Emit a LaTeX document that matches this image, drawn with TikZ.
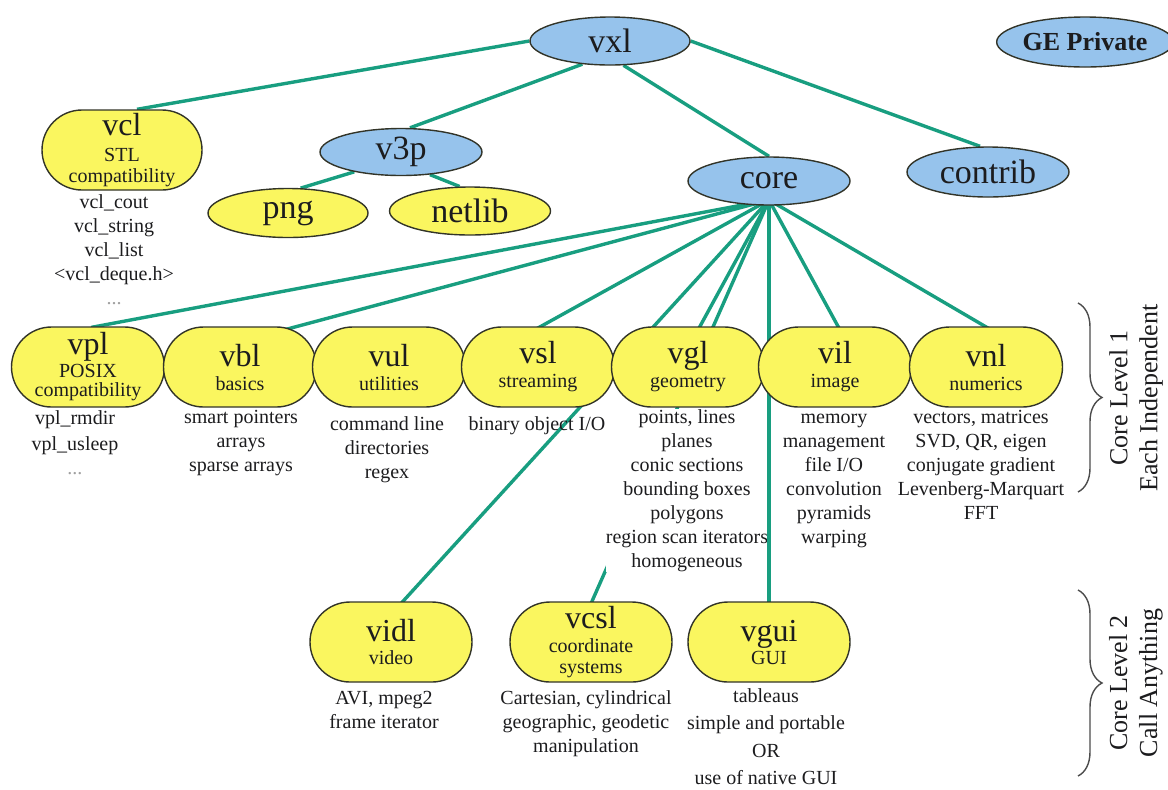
\documentclass[tikz,border=0pt]{standalone}
\usepackage{fontspec}
\setmainfont{Liberation Serif}
\usetikzlibrary{shapes.geometric,shapes.misc,calc,decorations.pathreplacing}
\definecolor{edgec}{RGB}{24,158,128}
\definecolor{bluef}{RGB}{150,195,236}
\definecolor{yelf}{RGB}{250,246,95}
\definecolor{bord}{RGB}{50,52,40}
\definecolor{txt}{RGB}{28,28,30}
\definecolor{dotc}{RGB}{160,160,160}
\newcommand\bigf{\fontsize{16}{16}\selectfont}
\newcommand\smf{\fontsize{10}{12}\selectfont}
\newcommand\stt{\rule{0pt}{7pt}}
\pgfdeclarelayer{bg}
\pgfdeclarelayer{descl}
\pgfdeclarelayer{toplines}
\pgfsetlayers{bg,descl,toplines,main}
\tikzset{
  blueell/.style={ellipse, draw=bord, fill=bluef, line width=0.7pt, inner sep=0pt, font=\fontsize{17}{17}\selectfont, text=txt},
  yelell/.style={blueell, fill=yelf},
  rbox/.style={rounded rectangle, draw=bord, fill=yelf, line width=0.7pt, inner sep=0pt, minimum height=40pt, minimum width=76.5pt, align=center, font=\smf, text=txt},
  desc/.style={align=center, font=\smf, inner sep=0pt, text=txt, anchor=north},
  conn/.style={draw=edgec, line width=1.7pt},
  brc/.style={draw=black!70, line width=0.7pt, decorate, decoration={brace, amplitude=12pt}},
  side/.style={rotate=90, align=center, font=\fontsize{13}{15}\selectfont, text=txt, inner sep=0pt}
}
\begin{document}
\begin{tikzpicture}[x=0.5pt, y=-0.5pt]
\useasboundingbox (0,0) rectangle (1168,789);
% top level
\node[blueell, minimum width=80pt, minimum height=24pt] (vxl) at (610,41) {vxl};
\node[blueell, minimum width=79pt, minimum height=25pt, font=\fontsize{13}{13}\selectfont\bfseries] (ge) at (1085,42) {GE Private};
\node[blueell, minimum width=81pt, minimum height=23.5pt] (v3p) at (401,152) {v3p};
\node[yelell, minimum width=80pt, minimum height=24.5pt] (png) at (288,213) {png};
\node[yelell, minimum width=80.5pt, minimum height=24pt] (netlib) at (470,211) {netlib};
\node[blueell, minimum width=81pt, minimum height=24pt] (core) at (769,181) {core};
\node[blueell, minimum width=81pt, minimum height=25pt] (contrib) at (988,172) {contrib};
\node[rbox, minimum width=80pt] (vcl) at (122,150) {{\bigf vcl}\\[1pt]STL\\[-1.5pt]compatibility};
% core level 1
\node[rbox] (vpl) at (88,367) {{\bigf vpl}\\[-0.5pt]POSIX\\[-2.5pt]compatibility};
\node[rbox] (vbl) at (240,367) {{\bigf vbl}\\basics};
\node[rbox] (vul) at (389,367) {{\bigf vul}\\utilities};
\node[rbox] (vsl) at (538,367) {{\bigf vsl}\\streaming};
\node[rbox] (vgl) at (688,367) {{\bigf vgl}\\geometry};
\node[rbox] (vil) at (835,367) {{\bigf vil}\\image};
\node[rbox] (vnl) at (986,367) {{\bigf vnl}\\numerics};
% core level 2
\node[rbox, minimum width=81pt] (vidl) at (391,642) {{\bigf vidl}\\[-0.5pt]video};
\node[rbox, minimum width=81pt] (vcsl) at (591,642) {{\bigf vcsl}\\coordinate\\[-1.5pt]systems};
\node[rbox, minimum width=81pt] (vgui) at (769,642) {{\bigf vgui}\\[-0.5pt]GUI};
% descriptions
\begin{pgfonlayer}{descl}
\node[desc] (vcl-d) at (114,194) {\stt vcl\_cout\\vcl\_string\\vcl\_list\\<vcl\_deque.h>\\{\color{dotc}...}};
\node[desc] (vpl-d) at (75,410) {\stt vpl\_rmdir\\[1pt]vpl\_usleep\\{\color{dotc}...}};
\node[desc] (vbl-d) at (241,409) {\stt smart pointers\\arrays\\sparse arrays};
\node[desc] (vul-d) at (387,416) {\stt command line\\directories\\regex};
\node[desc] (vsl-d) at (537,416) {\stt binary object I/O};
\node[desc, fill=white] (vgl-d) at (687,409) {\stt points, lines\\planes\\conic sections\\bounding boxes\\polygons\\region scan iterators\\homogeneous};
\node[desc] (vil-d) at (834,409) {\stt memory\\management\\file I/O\\convolution\\pyramids\\warping};
\node[desc] (vnl-d) at (981,409) {\stt vectors, matrices\\SVD, QR, eigen\\conjugate gradient\\Levenberg-Marquart\\FFT};
\node[desc] (vidl-d) at (384,690) {\stt AVI, mpeg2\\frame iterator};
\node[desc] (vcsl-d) at (586,690) {\stt Cartesian, cylindrical\\geographic, geodetic\\manipulation};
\node[desc] (vgui-d) at (766,688) {\stt tableaus\\[1.75pt]simple and portable\\[1.75pt]OR\\[1.75pt]use of native GUI};
\end{pgfonlayer}
% connectors
\begin{pgfonlayer}{bg}
\draw[conn] (vxl.west) -- ($(vcl.north)+(15,0)$);
\draw[conn] (vxl.220) -- ($(v3p.north)+(9,0)$);
\draw[conn] (vxl.299) -- (core.north);
\draw[conn] (vxl.east) -- ($(contrib.north)+(-8,0)$);
\draw[conn] (v3p.203) -- (png.63);
\draw[conn] (v3p.322) -- (netlib.113);
\coordinate (hub) at (769,200);
\draw[conn, shorten >=-3pt] (hub) -- ($(vpl.north)+(9,0)$);
\draw[conn, shorten >=-3pt] (hub) -- ($(vbl.north)+(50,2)$);
\draw[conn, shorten >=-3pt] (hub) -- ($(vsl.north)+(3,0)$);
\draw[conn, shorten >=-3pt] (hub) -- ($(vgl.north)+(12,0)$);
\draw[conn, shorten >=-3pt] (hub) -- ($(vil.north)+(3,0)$);
\draw[conn, shorten >=-3pt] (hub) -- ($(vnl.north)+(-1,0)$);
\draw[conn, shorten >=-3pt] (hub) -- ($(vidl.north)+(12,0)$);
\draw[conn, shorten >=-3pt] (hub) -- ($(vcsl.north)+(1,0)$);
\end{pgfonlayer}
\begin{pgfonlayer}{toplines}
\draw[conn, shorten >=-3pt] (hub) -- (vgui.north);
\end{pgfonlayer}
% braces
\coordinate (b1t) at (1078,303);
\coordinate (b1b) at (1078,492);
\draw[brc] (b1t) -- (b1b);
\node[side] (lvl1) at (1136,398) {Core Level 1\\Each Independent};
\coordinate (b2t) at (1078,590);
\coordinate (b2b) at (1078,776);
\draw[brc] (b2t) -- (b2b);
\node[side] (lvl2) at (1136,683) {Core Level 2\\Call Anything};
\end{tikzpicture}
\end{document}
